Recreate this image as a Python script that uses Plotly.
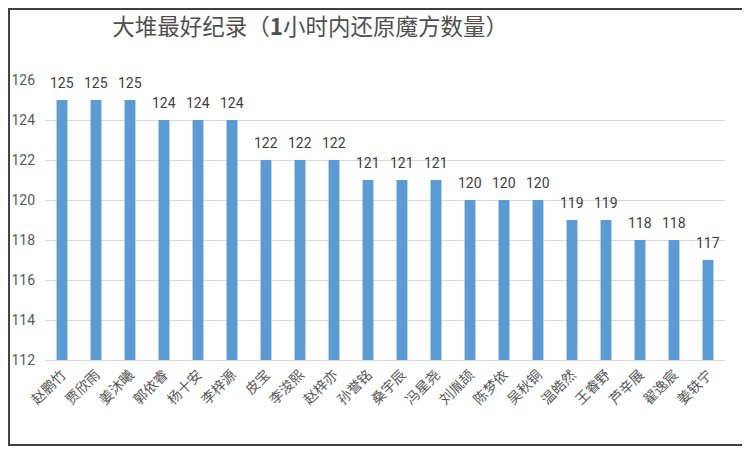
import plotly.graph_objects as go

names = [
    "赵鹏竹", "贾欣雨", "姜沐曦", "郭依睿", "杨十安", "李梓源", "皮宝",
    "李浚熙", "赵梓亦", "孙誉铭", "桑宇辰", "冯星尧", "刘胤颉", "陈梦依",
    "吴秋铜", "温皓然", "王睿野", "芦辛展", "翟逸宸", "姜轶宁",
]
scores = [125, 125, 125, 124, 124, 124, 122, 122, 122, 121, 121, 121,
          120, 120, 120, 119, 119, 118, 118, 117]
y_ticks = [112, 114, 116, 118, 120, 122, 124, 126]

GREY = "#595959"

fig = go.Figure()
fig.add_trace(
    go.Bar(
        x=names,
        y=scores,
        marker=dict(color="#5B9BD5", line=dict(width=0)),
        hoverinfo="skip",
    )
)

# value labels sit a fixed distance above each bar
for name, v in zip(names, scores):
    fig.add_annotation(
        x=name,
        y=v,
        text=str(v),
        showarrow=False,
        yanchor="middle",
        yshift=17,
        font=dict(family="Roboto, Noto Sans, sans-serif", size=14, color="#404040"),
    )

# the page puts the figure 8px in from the window corner, so margins
# are set a bit tighter than the target positions
fig.update_layout(
    width=750,
    height=449,
    title=dict(
        text="大堆最好纪录（<b>1</b>小时内还原魔方数量）",
        x=0.139,
        xanchor="left",
        y=0.958,
        yanchor="middle",
        font=dict(family="Noto Sans CJK SC", size=22.5, color="#505050"),
    ),
    font=dict(family="Noto Sans CJK SC", color=GREY),
    bargap=0.68,
    margin=dict(l=37, r=33, t=72, b=97),
    paper_bgcolor="white",
    plot_bgcolor="white",
    showlegend=False,
    xaxis=dict(
        range=[-0.5, len(names) - 0.5],
        tickangle=-45,
        tickfont=dict(family="Noto Sans CJK SC", size=14, color=GREY),
        showgrid=False,
        showline=True,
        linecolor="#D9D9D9",
        linewidth=1,
        ticks="",
        automargin=False,
    ),
    yaxis=dict(
        range=[112, 126],
        tickvals=y_ticks,
        tickfont=dict(family="Roboto, Noto Sans, sans-serif", size=14, color=GREY),
        showgrid=True,
        gridcolor="#D9D9D9",
        gridwidth=1,
        zeroline=False,
        ticks="",
        ticklabelstandoff=9,
        automargin=False,
    ),
    shapes=[
        dict(
            type="rect", xref="paper", yref="paper",
            x0=-0.0529, x1=1.0294, y0=-0.3036, y1=1.2536,
            line=dict(color="#404040", width=2),
        )
    ],
)

fig.write_html("out.html")
